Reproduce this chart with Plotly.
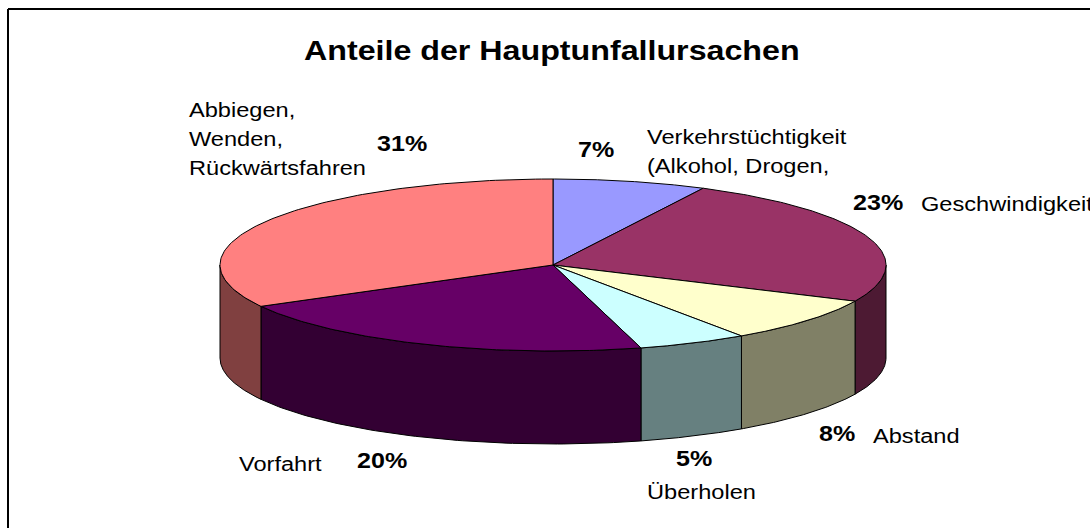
import numpy as np
import plotly.graph_objects as go

categories = ["Verkehrstüchtigkeit", "Geschwindigkeit", "Abstand", "Überholen", "Vorfahrt", "Abbiegen"]
values = [7, 23, 8, 5, 20, 31]
top_colors = ["#9999FF", "#993366", "#FFFFCC", "#CCFFFF", "#660066", "#FF8080"]
side_colors = ["#4D4D80", "#4D1A33", "#808066", "#668080", "#330033", "#804040"]

CX, CY, RX, RY, DEPTH = 553, 265, 333, 86, 93

fractions = np.array(values) / sum(values)
edges = np.concatenate([[0], np.cumsum(fractions)]) * 2 * np.pi


def px(t):
    return CX + RX * np.sin(t)


def py(t, drop=0.0):
    return CY - RY * np.cos(t) + drop


fig = go.Figure()
line = dict(color="#000000", width=1)

# side walls (only the front half of the cylinder is visible)
for i in range(len(values)):
    a, b = max(edges[i], np.pi / 2), min(edges[i + 1], 3 * np.pi / 2)
    if a >= b:
        continue
    t = np.linspace(a, b, 80)
    xs = np.concatenate([px(t), px(t[::-1]), [px(t[0])]])
    ys = np.concatenate([py(t), py(t[::-1], DEPTH), [py(t[0])]])
    fig.add_trace(go.Scatter(x=xs, y=ys, mode="lines", fill="toself",
                             fillcolor=side_colors[i], line=line, name=categories[i],
                             hoverinfo="skip", showlegend=False))

# top slices
for i in range(len(values)):
    t = np.linspace(edges[i], edges[i + 1], 120)
    xs = np.concatenate([[CX], px(t), [CX]])
    ys = np.concatenate([[CY], py(t), [CY]])
    fig.add_trace(go.Scatter(x=xs, y=ys, mode="lines", fill="toself",
                             fillcolor=top_colors[i], line=line, name=categories[i],
                             hoverinfo="skip", showlegend=False))

FONT = "Liberation Sans, Arial, sans-serif"


def label(x, y, text, size=19.5, bold=False):
    fig.add_annotation(x=x - 2, y=y, text=f"<b>{text}</b>" if bold else text, showarrow=False,
                       xanchor="left", yanchor="middle", align="left",
                       font=dict(family=FONT, size=size, color="#000000"))


label(304, 50, "Anteile der Hauptunfallursachen", size=28, bold=True)
for yy, txt in [(110, "Abbiegen,"), (139, "Wenden,"), (168, "Rückwärtsfahren")]:
    label(189, yy, txt)
label(377, 143, "31%", size=22, bold=True)
label(578, 149, "7%", size=22, bold=True)
label(647, 137, "Verkehrstüchtigkeit")
label(647, 166, "(Alkohol, Drogen,")
label(853, 202, "23%", size=22, bold=True)
label(921, 204, "Geschwindigkeit")
label(819, 433, "8%", size=22, bold=True)
label(873, 436, "Abstand")
label(676, 458, "5%", size=22, bold=True)
label(647, 492, "Überholen")
label(239, 464, "Vorfahrt")
label(357, 460, "20%", size=22, bold=True)

fig.update_layout(
    width=1090, height=528, margin=dict(l=0, r=0, t=0, b=0),
    paper_bgcolor="#FFFFFF", plot_bgcolor="#FFFFFF", showlegend=False,
    xaxis=dict(range=[0, 1090], visible=False, fixedrange=True),
    yaxis=dict(range=[528, 0], visible=False, fixedrange=True),
    shapes=[dict(type="line", xref="paper", yref="y", x0=8 / 1090, x1=1, y0=9, y1=9,
                 line=dict(color="#000000", width=2)),
            dict(type="line", xref="x", yref="paper", x0=8, x1=8, y0=0, y1=1 - 9 / 528,
                 line=dict(color="#000000", width=2))],
)

# The reference's lettering is horizontally stretched (a widened bitmap).
post = """
document.documentElement.style.overflow = 'hidden';
document.body.style.margin = '0';
document.querySelectorAll('.annotation-text').forEach(function (el) {
  var size = parseFloat(el.style.fontSize);
  var k = size >= 25 ? 1.15 : (size >= 21 ? 1.14 : 1.21);
  var w = el.getComputedTextLength();
  el.setAttribute('textLength', (w * k).toFixed(1));
  el.setAttribute('lengthAdjust', 'spacingAndGlyphs');
});
"""
fig.write_html("out.html", post_script=post, config={"displayModeBar": False})
